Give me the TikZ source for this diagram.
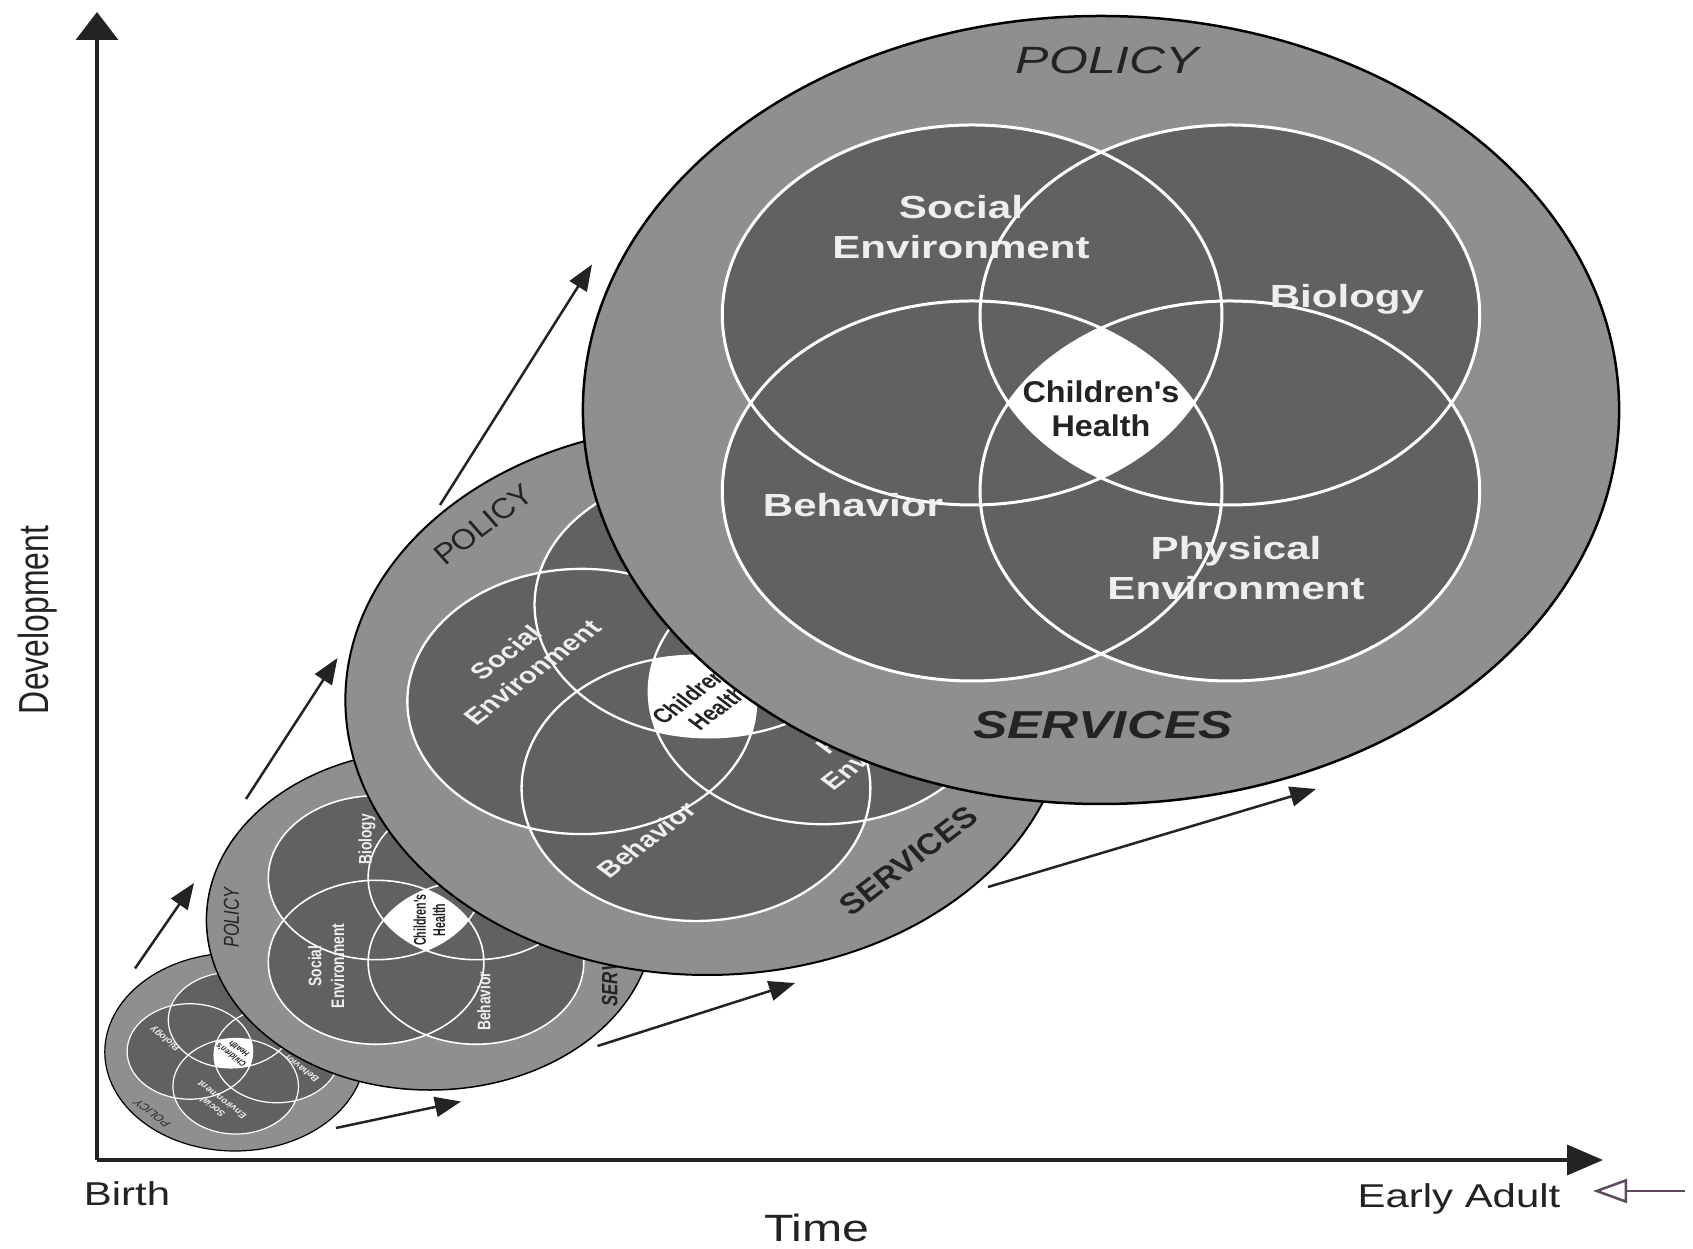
\documentclass[tikz,border=0pt]{standalone}
\usepackage{fontspec}
\setmainfont{Liberation Sans}
\newfontfamily\axisfont[FakeStretch=1.27]{Liberation Sans}
\newfontfamily\devfont[FakeStretch=0.76]{Liberation Sans}
\newfontfamily\condfont[FakeStretch=0.82]{Liberation Sans}
\usetikzlibrary{arrows.meta}
\definecolor{ringgray}{RGB}{143,143,143}
\definecolor{venngray}{RGB}{97,97,97}
\definecolor{ink}{RGB}{35,35,35}
\definecolor{labelwhite}{RGB}{238,238,238}
\definecolor{smallarrow}{RGB}{95,75,95}
\tikzset{
  vennlabel/.style={text=labelwhite, font=\bfseries\fontsize{32}{40}\selectfont, align=center, inner sep=0pt},
  healthlabel/.style={text=ink, font=\condfont\bfseries\fontsize{30}{34}\selectfont, align=center, inner sep=0pt},
  policylabel/.style={text=ink, font=\itshape\fontsize{38}{40}\selectfont, inner sep=0pt},
  serviceslabel/.style={text=ink, font=\bfseries\itshape\fontsize{39}{42}\selectfont, inner sep=0pt},
  growarrow/.style={draw=ink, line width=2.5pt, -{Triangle[length=26pt,width=20pt]}},
  axislabel/.style={text=ink, font=\axisfont\fontsize{33}{36}\selectfont, inner sep=0pt},
}
% shapes of one diagram, in its own frame (outer radius 394)
% #1 white line width, #2 black line width
\newcommand\vennshapes[2]{%
  \fill[ringgray, draw=black, line width=#2] (0,0) circle[radius=394];
  \fill[venngray] (-98,95) circle[radius=190] (98,95) circle[radius=190]
                  (-98,-81) circle[radius=190] (98,-81) circle[radius=190];
  \begin{scope}
    \clip (-98,95) circle[radius=190];
    \clip (98,95) circle[radius=190];
    \clip (-98,-81) circle[radius=190];
    \fill[white] (98,-81) circle[radius=190];
  \end{scope}
  \draw[white, line width=#1] (-98,95) circle[radius=190] (98,95) circle[radius=190]
                  (-98,-81) circle[radius=190] (98,-81) circle[radius=190];}
\begin{document}
\begin{tikzpicture}[x=1pt,y=1pt]
  \fill[white] (0,0) rectangle (1693,1249);
  \useasboundingbox (0,0) rectangle (1693,1249);
  % axes
  \coordinate (origin) at (97,89);
  \coordinate (ytop) at (97,1237);
  \coordinate (xend) at (1603,89);
  \draw[ink, line width=3.5pt, -{Triangle[length=28pt,width=42pt]}] (origin) -- (ytop);
  \draw[ink, line width=3.5pt, -{Triangle[length=36pt,width=30pt]}] (origin) -- (xend);
  % diagram 1 (smallest)
  \begin{scope}[shift={(235,197)}, xscale=1.315, rotate=135, scale=0.2513, transform shape]
    \vennshapes{1.2pt}{1.2pt}
    \node[vennlabel] (dAsoc) at (-106.5,183) {Social\\Environment};
    \node[vennlabel] (dAbio) at (187,111) {Biology};
    \node[vennlabel] (dAbeh) at (-188.6,-95) {Behavior};
    \node[healthlabel] (dAhea) at (0,1) {Children's\\Health};
    \node[policylabel] (dApol) at (5,350) {POLICY};
  \end{scope}
  % diagram 2
  \begin{scope}[shift={(430,329)}, xscale=1.315, rotate=90, scale=0.4315, transform shape]
    \vennshapes{1.6pt}{1.5pt}
    \node[vennlabel] (dBsoc) at (-106.5,183) {Social\\Environment};
    \node[vennlabel] (dBbio) at (187,111) {Biology};
    \node[vennlabel] (dBbeh) at (-188.6,-95) {Behavior};
    \node[healthlabel] (dBhea) at (0,1) {Children's\\Health};
    \node[policylabel] (dBpol) at (5,350) {POLICY};
    \node[serviceslabel] (dBser) at (-102,-317) {SERVICES};
  \end{scope}
  % diagram 3
  \begin{scope}[shift={(707,549)}, xscale=1.315, rotate=45, scale=0.698, transform shape]
    \vennshapes{2.3pt}{2pt}
    \node[vennlabel] (dCsoc) at (-106.5,183) {Social\\Environment};
    \node[vennlabel] (dCbeh) at (-188.6,-95) {Behavior};
    \node[vennlabel] (dCphy) at (102.7,-158) {Physical\\Environment};
    \node[healthlabel] (dChea) at (0,1) {Children's\\Health};
    \node[policylabel] (dCpol) at (5,350) {POLICY};
    \node[serviceslabel] (dCser) at (-8,-318) {SERVICES};
  \end{scope}
  % diagram 4 (largest)
  \begin{scope}[shift={(1101,839)}, xscale=1.315, scale=1, transform shape]
    \vennshapes{3pt}{2.5pt}
    \node[vennlabel] (dDsoc) at (-106.5,183) {Social\\Environment};
    \node[vennlabel] (dDbio) at (187,111) {Biology};
    \node[vennlabel] (dDbeh) at (-188.6,-95) {Behavior};
    \node[vennlabel] (dDphy) at (102.7,-158) {Physical\\Environment};
    \node[healthlabel] (dDhea) at (0,1) {Children's\\Health};
    \node[policylabel] (dDpol) at (5,350) {POLICY};
    \node[serviceslabel] (dDser) at (1.5,-315) {SERVICES};
  \end{scope}
  % growth arrows
  \coordinate (a1s) at (135,280.5); \coordinate (a1e) at (194,366);
  \coordinate (a2s) at (246,450);   \coordinate (a2e) at (337.5,591);
  \coordinate (a3s) at (440,744);   \coordinate (a3e) at (592,984.5);
  \coordinate (b1s) at (336,121);   \coordinate (b1e) at (461,147.5);
  \coordinate (b2s) at (597.5,203); \coordinate (b2e) at (795,266);
  \coordinate (b3s) at (988,362);   \coordinate (b3e) at (1316,460);
  \draw[growarrow] (a1s) -- (a1e);
  \draw[growarrow] (a2s) -- (a2e);
  \draw[growarrow] (a3s) -- (a3e);
  \draw[growarrow] (b1s) -- (b1e);
  \draw[growarrow] (b2s) -- (b2e);
  \draw[growarrow] (b3s) -- (b3e);
  % labels
  \node[axislabel, anchor=base] (birth) at (127,43) {Birth};
  \node[axislabel, anchor=base] (adult) at (1459,41) {Early Adult};
  \node[axislabel, anchor=base, font=\axisfont\fontsize{38}{40}\selectfont] (time) at (817,7) {Time};
  \node[text=ink, inner sep=0pt, rotate=90, font=\devfont\fontsize{42}{44}\selectfont] (dev) at (38,629) {Development};
  % small marker arrow
  \coordinate (ms) at (1685,58); \coordinate (me) at (1593,58);
  \draw[smallarrow, line width=2.5pt, -{Triangle[open,length=34pt,width=24pt]}] (ms) -- (me);
\end{tikzpicture}
\end{document}
